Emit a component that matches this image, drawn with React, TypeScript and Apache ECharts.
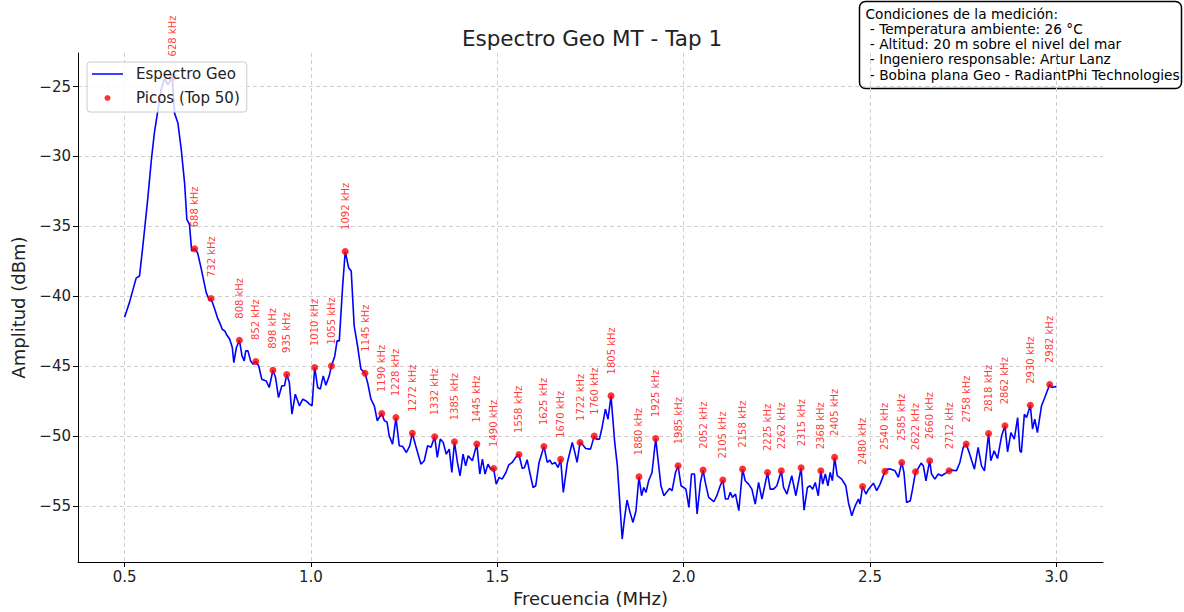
import React, { useEffect, useRef } from "react";
import * as echarts from "echarts";

// Frequency (kHz) and amplitude (dBm) of the traced spectrum
const freqKHz = [
  500, 513, 531, 540, 549, 562, 572, 580, 589, 598, 607, 616, 628, 634, 643, 652, 661, 667, 674, 680,
  688, 696, 706, 719, 728, 732, 742, 749, 755, 762, 769, 773, 782, 789, 793, 800, 808, 815, 821, 825,
  831, 838, 845, 852, 860, 868, 880, 888, 898, 905, 913, 922, 929, 935, 942, 949, 958, 969, 978, 987,
  996, 1003, 1010, 1018, 1025, 1033, 1040, 1049, 1055, 1064, 1070, 1076, 1085, 1092, 1101, 1108, 1116, 1125, 1134, 1145,
  1152, 1161, 1170, 1178, 1183, 1190, 1197, 1204, 1210, 1219, 1228, 1237, 1246, 1256, 1265, 1272, 1281, 1295, 1304, 1313,
  1322, 1332, 1339, 1347, 1355, 1363, 1371, 1378, 1385, 1393, 1400, 1408, 1415, 1422, 1433, 1445, 1453, 1460, 1467, 1475,
  1482, 1490, 1497, 1505, 1513, 1523, 1531, 1540, 1549, 1558, 1567, 1573, 1580, 1588, 1596, 1603, 1612, 1625, 1634, 1641,
  1647, 1655, 1663, 1670, 1677, 1688, 1701, 1707, 1714, 1722, 1728, 1737, 1750, 1760, 1766, 1774, 1781, 1790, 1797, 1805,
  1815, 1822, 1828, 1835, 1841, 1848, 1856, 1864, 1872, 1880, 1887, 1893, 1899, 1906, 1915, 1925, 1931, 1939, 1947, 1954,
  1962, 1969, 1978, 1985, 1993, 2000, 2006, 2014, 2021, 2029, 2036, 2045, 2052, 2058, 2067, 2081, 2089, 2098, 2105, 2112,
  2119, 2125, 2131, 2139, 2148, 2158, 2165, 2174, 2183, 2192, 2201, 2210, 2225, 2232, 2241, 2250, 2262, 2268, 2277, 2290,
  2301, 2315, 2323, 2332, 2339, 2346, 2353, 2361, 2368, 2373, 2380, 2387, 2393, 2399, 2405, 2412, 2424, 2435, 2442, 2451,
  2460, 2469, 2473, 2480, 2489, 2496, 2509, 2518, 2527, 2540, 2547, 2556, 2567, 2576, 2585, 2591, 2598, 2608, 2614, 2622,
  2628, 2637, 2643, 2650, 2660, 2665, 2674, 2683, 2692, 2699, 2712, 2719, 2732, 2741, 2750, 2758, 2766, 2780, 2790, 2799,
  2807, 2818, 2824, 2833, 2842, 2853, 2862, 2869, 2878, 2887, 2896, 2902, 2906, 2914, 2920, 2930, 2936, 2942, 2949, 2960,
  2967, 2982, 2989, 2996, 3000,
];

const amplitude = [
  -41.5, -40.45, -38.7, -38.55, -36.4, -33.07, -30.2, -28.3, -26.76, -25.2, -24.45, -24.86, -24.38, -26.9, -27.6, -29.5, -31.9, -34.5, -34.86, -36.76,
  -36.6, -36.9, -38.07, -39.74, -40.3, -40.16, -40.93, -41.52, -41.88, -42.36, -42.48, -42.71, -43.07, -43.66, -44.74, -43.66, -43.14, -44.26, -44.62, -43.9,
  -43.9, -44.62, -44.86, -44.66, -44.98, -45.93, -46.05, -46.52, -45.29, -45.8, -47.24, -46.4, -46.4, -45.59, -46.17, -48.43, -47.0, -47.83, -47.36, -47.48,
  -47.71, -47.83, -45.09, -46.52, -46.64, -45.69, -46.36, -45.69, -44.98, -44.26, -43.19, -43.19, -39.26, -36.79, -37.95, -38.19, -42.12, -43.55, -45.2, -45.5,
  -46.17, -47.36, -47.83, -48.9, -48.67, -48.38, -48.9, -48.98, -49.98, -50.57, -48.67, -50.69, -50.74, -51.17, -50.69, -49.79, -50.69, -52.0, -51.76, -50.69,
  -50.8, -50.05, -51.52, -50.21, -50.45, -51.29, -50.93, -52.6, -50.4, -51.88, -52.83, -51.29, -52.12, -51.4, -51.76, -50.57, -52.71, -51.64, -52.71, -52.0,
  -52.36, -52.31, -53.43, -52.95, -53.07, -52.6, -52.05, -51.88, -51.52, -51.31, -52.31, -52.24, -51.69, -52.71, -53.67, -53.55, -51.88, -50.74, -51.88, -51.71,
  -52.0, -51.88, -52.24, -51.66, -54.02, -51.88, -50.45, -51.05, -51.88, -50.45, -50.57, -50.88, -50.93, -50.0, -50.21, -50.21, -49.38, -48.07, -48.79, -47.12,
  -50.45, -52.12, -54.5, -57.36, -55.93, -54.57, -55.45, -56.17, -55.33, -52.9, -54.26, -53.67, -54.02, -53.19, -52.6, -50.17, -51.64, -53.55, -54.26, -54.02,
  -53.74, -53.9, -52.6, -52.12, -53.55, -53.67, -53.79, -55.1, -52.71, -52.71, -55.57, -53.31, -52.43, -53.31, -54.38, -54.69, -54.26, -53.55, -53.14, -54.5,
  -54.5, -54.02, -54.38, -54.14, -55.33, -52.36, -53.19, -53.43, -53.79, -54.86, -53.31, -54.5, -52.6, -53.79, -53.79, -53.55, -52.48, -53.67, -54.14, -52.83,
  -54.26, -52.26, -55.29, -53.67, -53.55, -53.79, -53.31, -54.26, -52.48, -53.43, -52.71, -53.55, -52.6, -53.19, -51.52, -52.83, -53.07, -53.55, -54.74, -55.69,
  -54.98, -54.5, -54.86, -53.6, -54.14, -53.79, -53.36, -53.9, -53.43, -52.52, -52.36, -52.36, -52.48, -52.95, -51.88, -52.6, -54.74, -54.62, -53.79, -52.55,
  -52.36, -51.93, -52.12, -53.19, -51.76, -52.71, -53.07, -52.71, -52.83, -52.71, -52.48, -52.43, -52.48, -51.88, -50.8, -50.57, -51.17, -52.36, -50.8, -52.12,
  -52.48, -49.81, -51.76, -51.05, -51.6, -49.98, -49.26, -51.12, -49.74, -50.21, -48.67, -51.05, -51.17, -48.43, -48.67, -47.79, -49.5, -48.79, -49.74, -47.83,
  -47.36, -46.31, -46.52, -46.45, -46.5,
];

// Labelled peaks (kHz)
const peakKHz = [
  628, 688, 732, 808, 852, 898, 935, 1010, 1055, 1092, 1145, 1190, 1228, 1272, 1332, 1385, 1445, 1490,
  1558, 1625, 1670, 1722, 1760, 1805, 1880, 1925, 1985, 2052, 2105, 2158, 2225, 2262, 2315, 2368, 2405,
  2480, 2540, 2585, 2622, 2660, 2712, 2758, 2818, 2862, 2930, 2982,
];

const xTicks = [0.5, 1.0, 1.5, 2.0, 2.5, 3.0];
const yTicks = [-55, -50, -45, -40, -35, -30, -25];

const conditionLines = [
  "Condiciones de la medición:",
  " - Temperatura ambiente: 26 °C",
  " - Altitud: 20 m sobre el nivel del mar",
  " - Ingeniero responsable: Artur Lanz",
  " - Bobina plana Geo - RadiantPhi Technologies",
];

const FONT = "DejaVu Sans";
// thin horizontal bar icon (31 x 6 box) for the line legend entry
const LINE_ICON = "path://M0,0h0.01v0.01h-0.01z M0,2.2h31v1.6h-31z M30.99,5.99h0.01v0.01h-0.01z";

export default function App() {
  const ref = useRef<HTMLDivElement>(null);

  useEffect(() => {
    if (!ref.current) return;
    const chart = echarts.init(ref.current, null, { renderer: "svg" });

    const lineData = freqKHz.map((f, i) => [f / 1000, amplitude[i]]);
    const peakData = peakKHz.map((f) => [f / 1000, amplitude[freqKHz.indexOf(f)], f]);

    const axisText = { fontFamily: FONT, fontSize: 15, color: "#222" };
    const splitLine = {
      show: true,
      lineStyle: { color: "#cfcfcf", width: 1, type: [4, 3] as number[] },
    };

    chart.setOption({
      animation: false,
      backgroundColor: "#ffffff",
      title: {
        text: "Espectro Geo MT - Tap 1",
        left: "center",
        top: 22,
        textStyle: { fontFamily: FONT, fontSize: 21.5, fontWeight: "normal", color: "#222" },
      },
      grid: { left: 78, right: 81, top: 53, bottom: 49, containLabel: false },
      legend: {
        orient: "vertical",
        left: 87,
        top: 62,
        padding: [3, 7, 5, 5],
        itemWidth: 31,
        itemHeight: 6,
        itemGap: 6,
        backgroundColor: "rgba(255,255,255,0.8)",
        borderColor: "#cccccc",
        borderWidth: 1,
        borderRadius: 3,
        textStyle: { fontFamily: FONT, fontSize: 15, color: "#222", lineHeight: 18, padding: [0, 0, 0, 8] },
        data: [
          { name: "Espectro Geo", icon: LINE_ICON },
          { name: "Picos (Top 50)", icon: "circle" },
        ],
      },
      xAxis: {
        type: "value",
        min: 0.375,
        max: 3.125,
        name: "Frecuencia (MHz)",
        nameLocation: "middle",
        nameGap: 27,
        nameTextStyle: { fontFamily: FONT, fontSize: 18, color: "#222" },
        axisLine: { show: true, onZero: false, lineStyle: { color: "#000", width: 1 } },
        axisTick: { show: true, customValues: xTicks, length: 5, lineStyle: { color: "#000" } },
        axisLabel: { ...axisText, customValues: xTicks, margin: 7, formatter: (v: number) => v.toFixed(1) },
        splitLine,
      },
      yAxis: {
        type: "value",
        min: -59,
        max: -22.6,
        name: "Amplitud (dBm)",
        nameLocation: "middle",
        nameGap: 51,
        nameTextStyle: { fontFamily: FONT, fontSize: 18, color: "#222" },
        axisLine: { show: true, onZero: false, lineStyle: { color: "#000", width: 1 } },
        axisTick: { show: true, customValues: yTicks, length: 5, lineStyle: { color: "#000" } },
        axisLabel: {
          ...axisText,
          customValues: yTicks,
          margin: 7,
          formatter: (v: number) => (v < 0 ? "\u2212" + Math.abs(v) : String(v)),
        },
        splitLine,
      },
      series: [
        {
          name: "Espectro Geo",
          type: "line",
          data: lineData,
          symbol: "none",
          lineStyle: { color: "#0000ff", width: 1.6 },
          itemStyle: { color: "#0000ff" },
          z: 2,
        },
        {
          name: "Picos (Top 50)",
          type: "scatter",
          data: peakData,
          symbol: "circle",
          symbolSize: 7,
          itemStyle: { color: "#ff0000" },
          z: 3,
          label: {
            show: true,
            position: "top",
            distance: 18,
            rotate: 90,
            align: "left",
            verticalAlign: "middle",
            color: "#ff0000",
            fontFamily: FONT,
            fontSize: 10,
            formatter: (p: any) => `${p.value[2]} kHz`,
          },
        },
      ],
      graphic: [
        {
          type: "group",
          x: 859.5,
          y: 1.5,
          z: 10,
          children: [
            {
              type: "rect",
              shape: { x: 0, y: 0, width: 322, height: 87, r: 6 },
              style: { fill: "#ffffff", stroke: "#000000", lineWidth: 1.5 },
            },
            {
              type: "text",
              x: 6,
              y: 4.5,
              style: {
                text: conditionLines.join("\n"),
                fontFamily: FONT,
                fontSize: 13.7,
                lineHeight: 15.25,
                fill: "#000000",
              },
            },
          ],
        },
      ],
    });

    return () => {
      chart.dispose();
    };
  }, []);

  return (
    <div
      ref={ref}
      style={{ position: "absolute", left: 0, top: 0, width: 1184, height: 612 }}
    />
  );
}
